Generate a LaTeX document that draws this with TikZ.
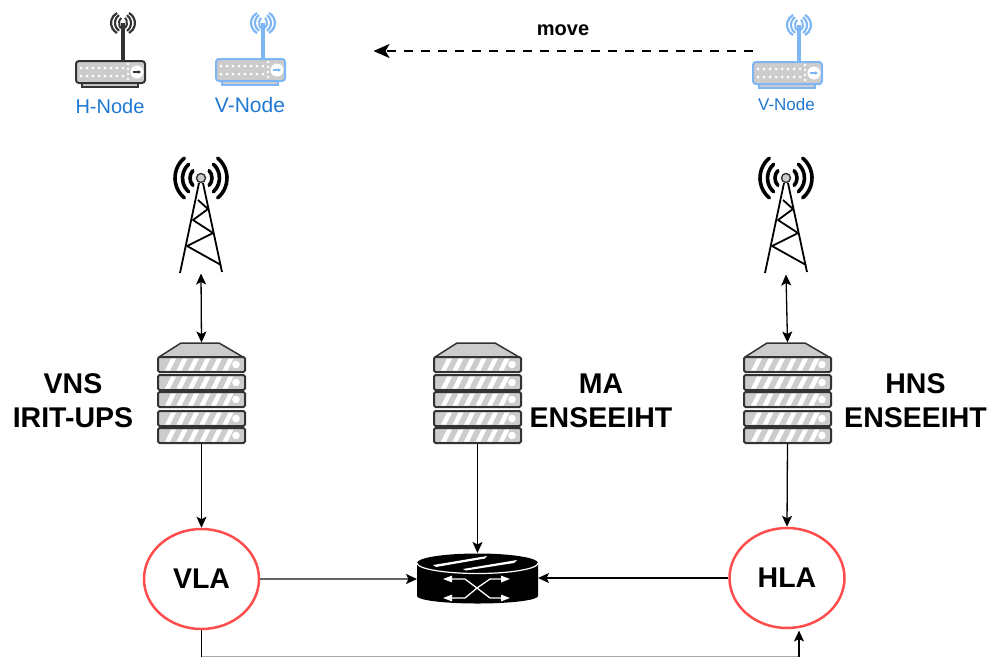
\documentclass[tikz,border=0pt]{standalone}
\usepackage{fontspec}
\setmainfont{Liberation Sans}
\usetikzlibrary{arrows.meta,shapes.geometric}
\definecolor{bluenode}{HTML}{7EB6F5}
\definecolor{bluetext}{HTML}{1F78D1}
\definecolor{redring}{HTML}{FF4D4D}
\definecolor{slab}{HTML}{CCCCCC}
\definecolor{slabline}{HTML}{333333}
\tikzset{
  x=1pt,y=-1pt,
  bigtip/.tip={Stealth[length=11pt,width=10pt,inset=2.5pt]},
  link/.style={line width=1.3pt,black,-bigtip},
  anchorbox/.style={inner sep=0,outer sep=0,draw=none},
  ring/.style={ellipse,draw=redring,line width=2.5pt,fill=white,inner sep=0,minimum width=115pt,minimum height=100pt,font=\fontsize{28.5}{28.5}\selectfont\bfseries},
  biglabel/.style={align=center,font=\fontsize{28.5}{34}\selectfont\bfseries},
  nodelabel/.style={text=bluetext,font=\fontsize{20}{20}\selectfont},
  slabbox/.style={draw=slabline,fill=slab,line width=2pt,rounded corners=1.5pt},
  wave/.style={line width=3.6pt,black,line cap=round},
}
% router icon: #1,#2 top-left of the body, #3 colour, #4 antenna height, #5 antenna x
\newcommand{\routericon}[5]{%
\begin{scope}[shift={(#1,#2)}]
  \draw[#3,line width=3.4pt] (#5,0) -- (#5,-#4);
  \foreach \r/\h/\w in {4/6/2,8/9/2.1,12/11.5/2.2}{
    \draw[#3,line width=\w pt] (#5,-#4) ++(120:\r pt and \h pt) arc[start angle=120,end angle=240,x radius=\r pt,y radius=\h pt];
    \draw[#3,line width=\w pt] (#5,-#4) ++(-60:\r pt and \h pt) arc[start angle=-60,end angle=60,x radius=\r pt,y radius=\h pt];
  }
  \draw[#3,fill=slab,line width=1.2pt] (6,22) rectangle (62,26);
  \draw[#3,fill=slab,line width=2pt,rounded corners=3pt] (0,0) rectangle (69,22);
  \foreach \i in {0,...,7}{
    \fill[white] (5+\i*6,7) circle[radius=1.5pt];
    \fill[white] (5+\i*6,15) circle[radius=1.5pt];
  }
  \foreach \j in {3,8,13,18}{\fill[white] (52,\j) circle[radius=1.3pt];}
  \fill[white] (61,11) circle[radius=6.5pt];
  \draw[#3,line width=1.4pt,-{Stealth[length=3pt,width=3.5pt]}] (57,11) -- (65,11);
\end{scope}}
% tower icon: #1,#2 centre of the lamp
\newcommand{\towericon}[2]{%
\begin{scope}[shift={(#1,#2)}]
  \draw[black,line width=1.8pt,line join=round] (-2,5) -- (-21,95) (2,5) -- (21,94);
  \draw[black,line width=1.8pt,line join=round] (-3,22) -- (7,31) -- (-8,42) -- (12,55) -- (-14,68) -- (20,87);
  \foreach \r/\a in {11/42,18.5/48,26/50}{
    \draw[wave] (0,0) ++(180-\a:\r pt) arc[start angle=180-\a,end angle=180+\a,radius=\r pt];
    \draw[wave] (0,0) ++(-\a:\r pt) arc[start angle=-\a,end angle=\a,radius=\r pt];
  }
  \draw[slabline,fill=slab,line width=1.4pt] (0,0) circle[radius=4.5pt];
\end{scope}}
% server icon: #1,#2 top-left of the bounding box
\newcommand{\servericon}[2]{%
\begin{scope}[shift={(#1,#2)}]
  \draw[slabline,fill=slab,line width=1.5pt,line join=round] (1,14) -- (23,0) -- (61,0) -- (85,14) -- cycle;
  \foreach \y in {14,32,49,68,85}{
    \draw[slabbox] (0,\y) rectangle (87,\y+15);
    \foreach \i in {0,...,5}{
      \fill[white] (7+\i*11.5,\y+13.5) -- (12+\i*11.5,\y+13.5) -- (18+\i*11.5,\y+1.5) -- (13+\i*11.5,\y+1.5) -- cycle;
    }
    \fill[white] (78,\y+7.5) circle[radius=3.8pt];
  }
\end{scope}}
\begin{document}
\begin{tikzpicture}
\useasboundingbox (0,0) rectangle (989,657);

% top icons
\routericon{76}{61}{slabline}{38}{47}
\routericon{216}{59}{bluenode}{36}{47}
\routericon{753}{62}{bluenode}{37}{46}
\node[nodelabel] (hnodel) at (110,106.5) {H-Node};
\node[nodelabel,font=\fontsize{21}{21}\selectfont] (vnodel) at (250,105) {V-Node};
\node[nodelabel,font=\fontsize{17}{17}\selectfont] (vnoder) at (786.5,104.5) {V-Node};
\node[anchorbox,minimum width=1pt,minimum height=1pt] (vleft) at (373,51) {};
\node[anchorbox,minimum width=1pt,minimum height=1pt] (vright) at (753,51) {};
\draw[black,line width=2.1pt,dash pattern=on 8.5pt off 8.5pt,-{Stealth[length=16pt,width=14pt,inset=4pt]}] (vright) -- (vleft);
\node[font=\fontsize{20}{20}\selectfont\bfseries] (movel) at (563,30) {move};

% towers
\towericon{201}{178}
\towericon{786}{178}
\node[anchorbox,minimum width=42pt,minimum height=1pt] (towerl) at (201,273) {};
\node[anchorbox,minimum width=42pt,minimum height=1pt] (towerr) at (786,274) {};

% servers
\servericon{158}{343}
\servericon{434}{343}
\servericon{744}{343}
\node[anchorbox,minimum width=87pt,minimum height=101pt] (vns) at (201.5,393) {};
\node[anchorbox,minimum width=87pt,minimum height=101pt] (ma) at (477.5,393) {};
\node[anchorbox,minimum width=87pt,minimum height=101pt] (hns) at (787.5,393) {};
\node[biglabel] (vnsl) at (73,401) {VNS\\IRIT-UPS};
\node[biglabel] (mal) at (601,401) {MA\\ENSEEIHT};
\node[biglabel] (hnsl) at (915.5,401) {HNS\\ENSEEIHT};

% agents
\node[ring] (vla) at (201.5,579) {VLA};
\node[ring] (hla) at (787,578) {HLA};

% core router
\node[anchorbox,minimum width=121pt,minimum height=50pt] (core) at (477.5,578) {};
\fill[black] (417,563) -- (417,596) arc[start angle=180,end angle=360,x radius=60.5pt,y radius=7.5pt] -- (538,563) -- cycle;
\fill[black] (477.5,563) ellipse[x radius=60.5pt,y radius=9.5pt];
\draw[white,line width=1.2pt] (417,563) arc[start angle=180,end angle=360,x radius=60.5pt,y radius=10.5pt];
\fill[white] (433,565) -- (487,556) -- (485,558.5) -- (436,567) -- cycle;
\fill[white] (463,569) -- (517,560) -- (514,563) -- (466,570.5) -- cycle;
\begin{scope}[white,line width=1.3pt,line join=round,-{Stealth[length=9pt,width=6.5pt,inset=0pt]}]
\draw (477,588) -- (465,579) -- (443,579);
\draw (477,588) -- (490,598) -- (510,598);
\draw (477,588) -- (465,598) -- (443,598);
\draw (477,588) -- (490,579) -- (510,579);
\end{scope}

% connectors
\draw[link,bigtip-bigtip] (towerl.south) -- (vns.north);
\draw[link,bigtip-bigtip] (towerr.south) -- (hns.north);
\draw[link] (vns.south) -- (vla.north);
\draw[link] (ma.south) -- (core.north);
\draw[link] (hns.south) -- (hla.north);
\draw[line width=1.8pt,black!60,-{Stealth[length=11pt,width=10pt,inset=2.5pt,color=black]}] (vla.east) -- (vla.east -| core.west);
\draw[link,line width=1.1pt] (hla.west) -- (core.east);
\coordinate (bendl) at (201.5,656.5);
\coordinate (bendr) at (799,656.5);
\coordinate (hlain) at (799,630.5);
\draw[line width=1.3pt,black] (vla.south) -- (bendl);
\draw[line width=1.3pt,black!35] (bendl) -- (bendr);
\draw[link] (bendr) -- (hlain);
\end{tikzpicture}
\end{document}
